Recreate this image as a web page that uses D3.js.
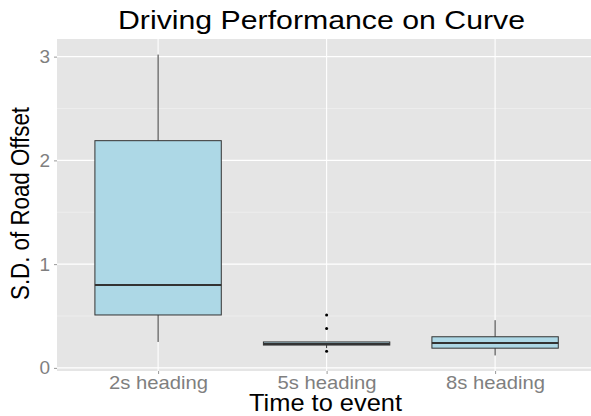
<!DOCTYPE html>
<html>
<head>
<meta charset="utf-8">
<script src="https://cdn.jsdelivr.net/npm/d3@7"></script>
<style>
  body { margin: 0; background: #fff; }
  text { font-family: "Liberation Sans", Arial, sans-serif; }
</style>
</head>
<body>
<div id="chart"></div>
<script>
let categories = ['2s heading', '5s heading', '8s heading'];
let whiskerLow = [0.25, 0.19, 0.12];
let q1 = [0.51, 0.22, 0.19];
let median = [0.80, 0.23, 0.24];
let q3 = [2.19, 0.25, 0.30];
let whiskerHigh = [3.02, 0.25, 0.46];
let outliers = [[], [0.51, 0.38, 0.16], []];
let yTicks = [0, 1, 2, 3];
let yMinor = [0.5, 1.5, 2.5];

let width = 591;
let height = 416;
let margin = {top: 39, right: 0, bottom: 45, left: 57};

let svg = d3.select('#chart').append('svg')
            .attr('width', width)
            .attr('height', height);

// ggplot style discrete scale: 0.6 unit padding each side
let x = d3.scaleLinear()
          .domain([0.4, categories.length + 0.6])
          .range([margin.left, margin.left + 3.2 * 168.5]);
let y = d3.scaleLinear()
          .domain([-0.03, 3.17])
          .range([height - margin.bottom, margin.top]);

let boxes = categories.map((c, i) => ({
  name: c, pos: i + 1,
  lo: whiskerLow[i], q1: q1[i], med: median[i], q3: q3[i], hi: whiskerHigh[i],
  out: outliers[i]
}));

// panel
svg.append('rect')
   .attr('x', margin.left).attr('y', margin.top)
   .attr('width', width - margin.left - margin.right)
   .attr('height', height - margin.bottom - margin.top)
   .attr('fill', '#e5e5e5');

let grid = svg.append('g');
grid.selectAll('.minor').data(yMinor).join('line')
    .attr('x1', margin.left).attr('x2', width - margin.right)
    .attr('y1', d => y(d)).attr('y2', d => y(d))
    .attr('stroke', '#f2f2f2').attr('stroke-width', 0.6);
grid.selectAll('.major').data(yTicks).join('line')
    .attr('x1', margin.left).attr('x2', width - margin.right)
    .attr('y1', d => y(d)).attr('y2', d => y(d))
    .attr('stroke', '#fff').attr('stroke-width', 1.1);
grid.selectAll('.vmajor').data(boxes).join('line')
    .attr('x1', d => x(d.pos)).attr('x2', d => x(d.pos))
    .attr('y1', margin.top).attr('y2', height - margin.bottom)
    .attr('stroke', '#fff').attr('stroke-width', 1.1);

// boxplots
let bw = 0.75;
let g = svg.append('g').selectAll('g').data(boxes).join('g');
g.append('line')
 .attr('x1', d => x(d.pos)).attr('x2', d => x(d.pos))
 .attr('y1', d => y(d.hi)).attr('y2', d => y(d.lo))
 .attr('stroke', '#333').attr('stroke-width', 1);
g.append('rect')
 .attr('x', d => x(d.pos - bw / 2))
 .attr('width', d => x(d.pos + bw / 2) - x(d.pos - bw / 2))
 .attr('y', d => y(d.q3))
 .attr('height', d => y(d.q1) - y(d.q3))
 .attr('fill', '#add8e6').attr('stroke', '#333').attr('stroke-width', 1);
g.append('line')
 .attr('x1', d => x(d.pos - bw / 2)).attr('x2', d => x(d.pos + bw / 2))
 .attr('y1', d => y(d.med)).attr('y2', d => y(d.med))
 .attr('stroke', '#333').attr('stroke-width', 2);
g.selectAll('circle').data(d => d.out.map(v => ({pos: d.pos, v: v}))).join('circle')
 .attr('cx', d => x(d.pos)).attr('cy', d => y(d.v))
 .attr('r', 1.5).attr('fill', '#000');

// axes
let yAxis = svg.append('g')
  .attr('transform', `translate(${margin.left},0)`)
  .call(d3.axisLeft(y).tickValues(yTicks).tickSize(3).tickFormat(d3.format('d')));
yAxis.select('.domain').remove();
yAxis.selectAll('line').attr('stroke', '#999');
yAxis.selectAll('text').attr('fill', '#7f7f7f').attr('font-size', 19).attr('dx', -1);

let xAxis = svg.append('g')
  .attr('transform', `translate(0,${height - margin.bottom})`)
  .call(d3.axisBottom(x).tickValues([1, 2, 3]).tickSize(3).tickFormat(d => categories[d - 1]));
xAxis.select('.domain').remove();
xAxis.selectAll('line').attr('stroke', '#999');
xAxis.selectAll('text').attr('fill', '#7f7f7f').attr('font-size', 18.5)
     .attr('dy', null).attr('y', 18)
     .attr('textLength', 99).attr('lengthAdjust', 'spacingAndGlyphs');

// titles
svg.append('text')
   .attr('x', 321.5).attr('y', 29)
   .attr('text-anchor', 'middle').attr('font-size', 25)
   .attr('textLength', 407).attr('lengthAdjust', 'spacingAndGlyphs')
   .text('Driving Performance on Curve');
svg.append('text')
   .attr('x', 325.5).attr('y', 411)
   .attr('text-anchor', 'middle').attr('font-size', 24.5)
   .attr('textLength', 153).attr('lengthAdjust', 'spacingAndGlyphs')
   .text('Time to event');
svg.append('text')
   .attr('transform', `translate(28.5,203.5) rotate(-90)`)
   .attr('text-anchor', 'middle').attr('font-size', 25)
   .attr('textLength', 193).attr('lengthAdjust', 'spacingAndGlyphs')
   .text('S.D. of Road Offset');
</script>
</body>
</html>
